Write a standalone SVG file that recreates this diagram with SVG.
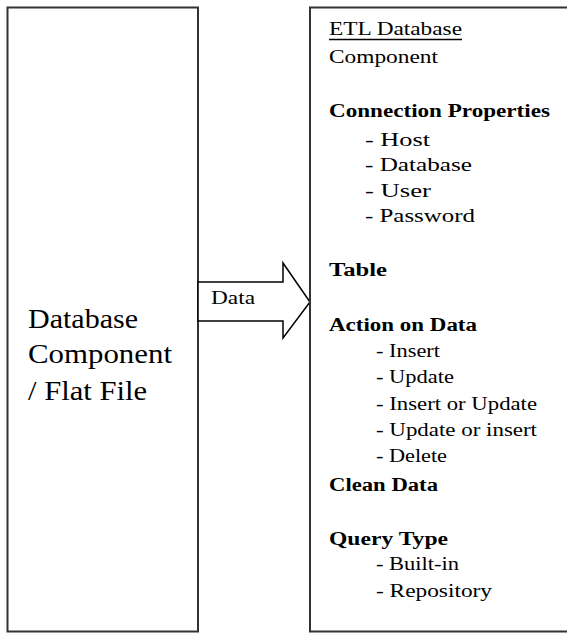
<svg xmlns="http://www.w3.org/2000/svg" width="567" height="633" viewBox="0 0 567 633">
<style>
.box{fill:#fff;stroke:#333;stroke-width:2}
.t{font-family:"Liberation Serif","Times New Roman",serif;fill:#000}
.r{font-size:18px}
.b{font-weight:bold}
.l{font-size:27px}
.arrow{fill:#fff;stroke:#000;stroke-width:1.5;stroke-linejoin:miter}
</style>
<rect width="567" height="633" fill="#fff"/>
<g id="source">
<rect class="box" x="7.5" y="7.5" width="190.5" height="624"/>
<text class="t l" x="28" y="328" textLength="110" lengthAdjust="spacingAndGlyphs">Database</text>
<text class="t l" x="28" y="363" textLength="144" lengthAdjust="spacingAndGlyphs">Component</text>
<text class="t l" x="28" y="400" textLength="119" lengthAdjust="spacingAndGlyphs">/ Flat File</text>
</g>
<g id="connectors">
<polygon class="arrow" points="198,282 283,282 283,263 310,302 283,338 283,321 198,321"/>
<text class="t r" x="211" y="304" textLength="44" lengthAdjust="spacingAndGlyphs">Data</text>
</g>
<g id="target">
<rect class="box" x="310" y="7.5" width="270" height="624"/>
<text class="t r" x="329" y="35" textLength="133" lengthAdjust="spacingAndGlyphs">ETL Database</text>
<line x1="329" y1="39.5" x2="462" y2="39.5" stroke="#000" stroke-width="1.3"/>
<text class="t r" x="329" y="63" textLength="109" lengthAdjust="spacingAndGlyphs">Component</text>
<text class="t r b" x="329" y="117" textLength="221" lengthAdjust="spacingAndGlyphs">Connection Properties</text>
<text class="t r" x="365" y="146" textLength="65" lengthAdjust="spacingAndGlyphs">- Host</text>
<text class="t r" x="365" y="171" textLength="107" lengthAdjust="spacingAndGlyphs">- Database</text>
<text class="t r" x="365" y="197" textLength="66" lengthAdjust="spacingAndGlyphs">- User</text>
<text class="t r" x="365" y="222" textLength="110" lengthAdjust="spacingAndGlyphs">- Password</text>
<text class="t r b" x="329" y="276" textLength="58" lengthAdjust="spacingAndGlyphs">Table</text>
<text class="t r b" x="329" y="331" textLength="148" lengthAdjust="spacingAndGlyphs">Action on Data</text>
<text class="t r" x="376" y="357" textLength="64" lengthAdjust="spacingAndGlyphs">- Insert</text>
<text class="t r" x="376" y="383" textLength="78" lengthAdjust="spacingAndGlyphs">- Update</text>
<text class="t r" x="376" y="410" textLength="161" lengthAdjust="spacingAndGlyphs">- Insert or Update</text>
<text class="t r" x="376" y="436" textLength="161" lengthAdjust="spacingAndGlyphs">- Update or insert</text>
<text class="t r" x="376" y="462" textLength="71" lengthAdjust="spacingAndGlyphs">- Delete</text>
<text class="t r b" x="329" y="491" textLength="109" lengthAdjust="spacingAndGlyphs">Clean Data</text>
<text class="t r b" x="329" y="545" textLength="119" lengthAdjust="spacingAndGlyphs">Query Type</text>
<text class="t r" x="376" y="570" textLength="83" lengthAdjust="spacingAndGlyphs">- Built-in</text>
<text class="t r" x="376" y="597" textLength="116" lengthAdjust="spacingAndGlyphs">- Repository</text>
</g>
</svg>
